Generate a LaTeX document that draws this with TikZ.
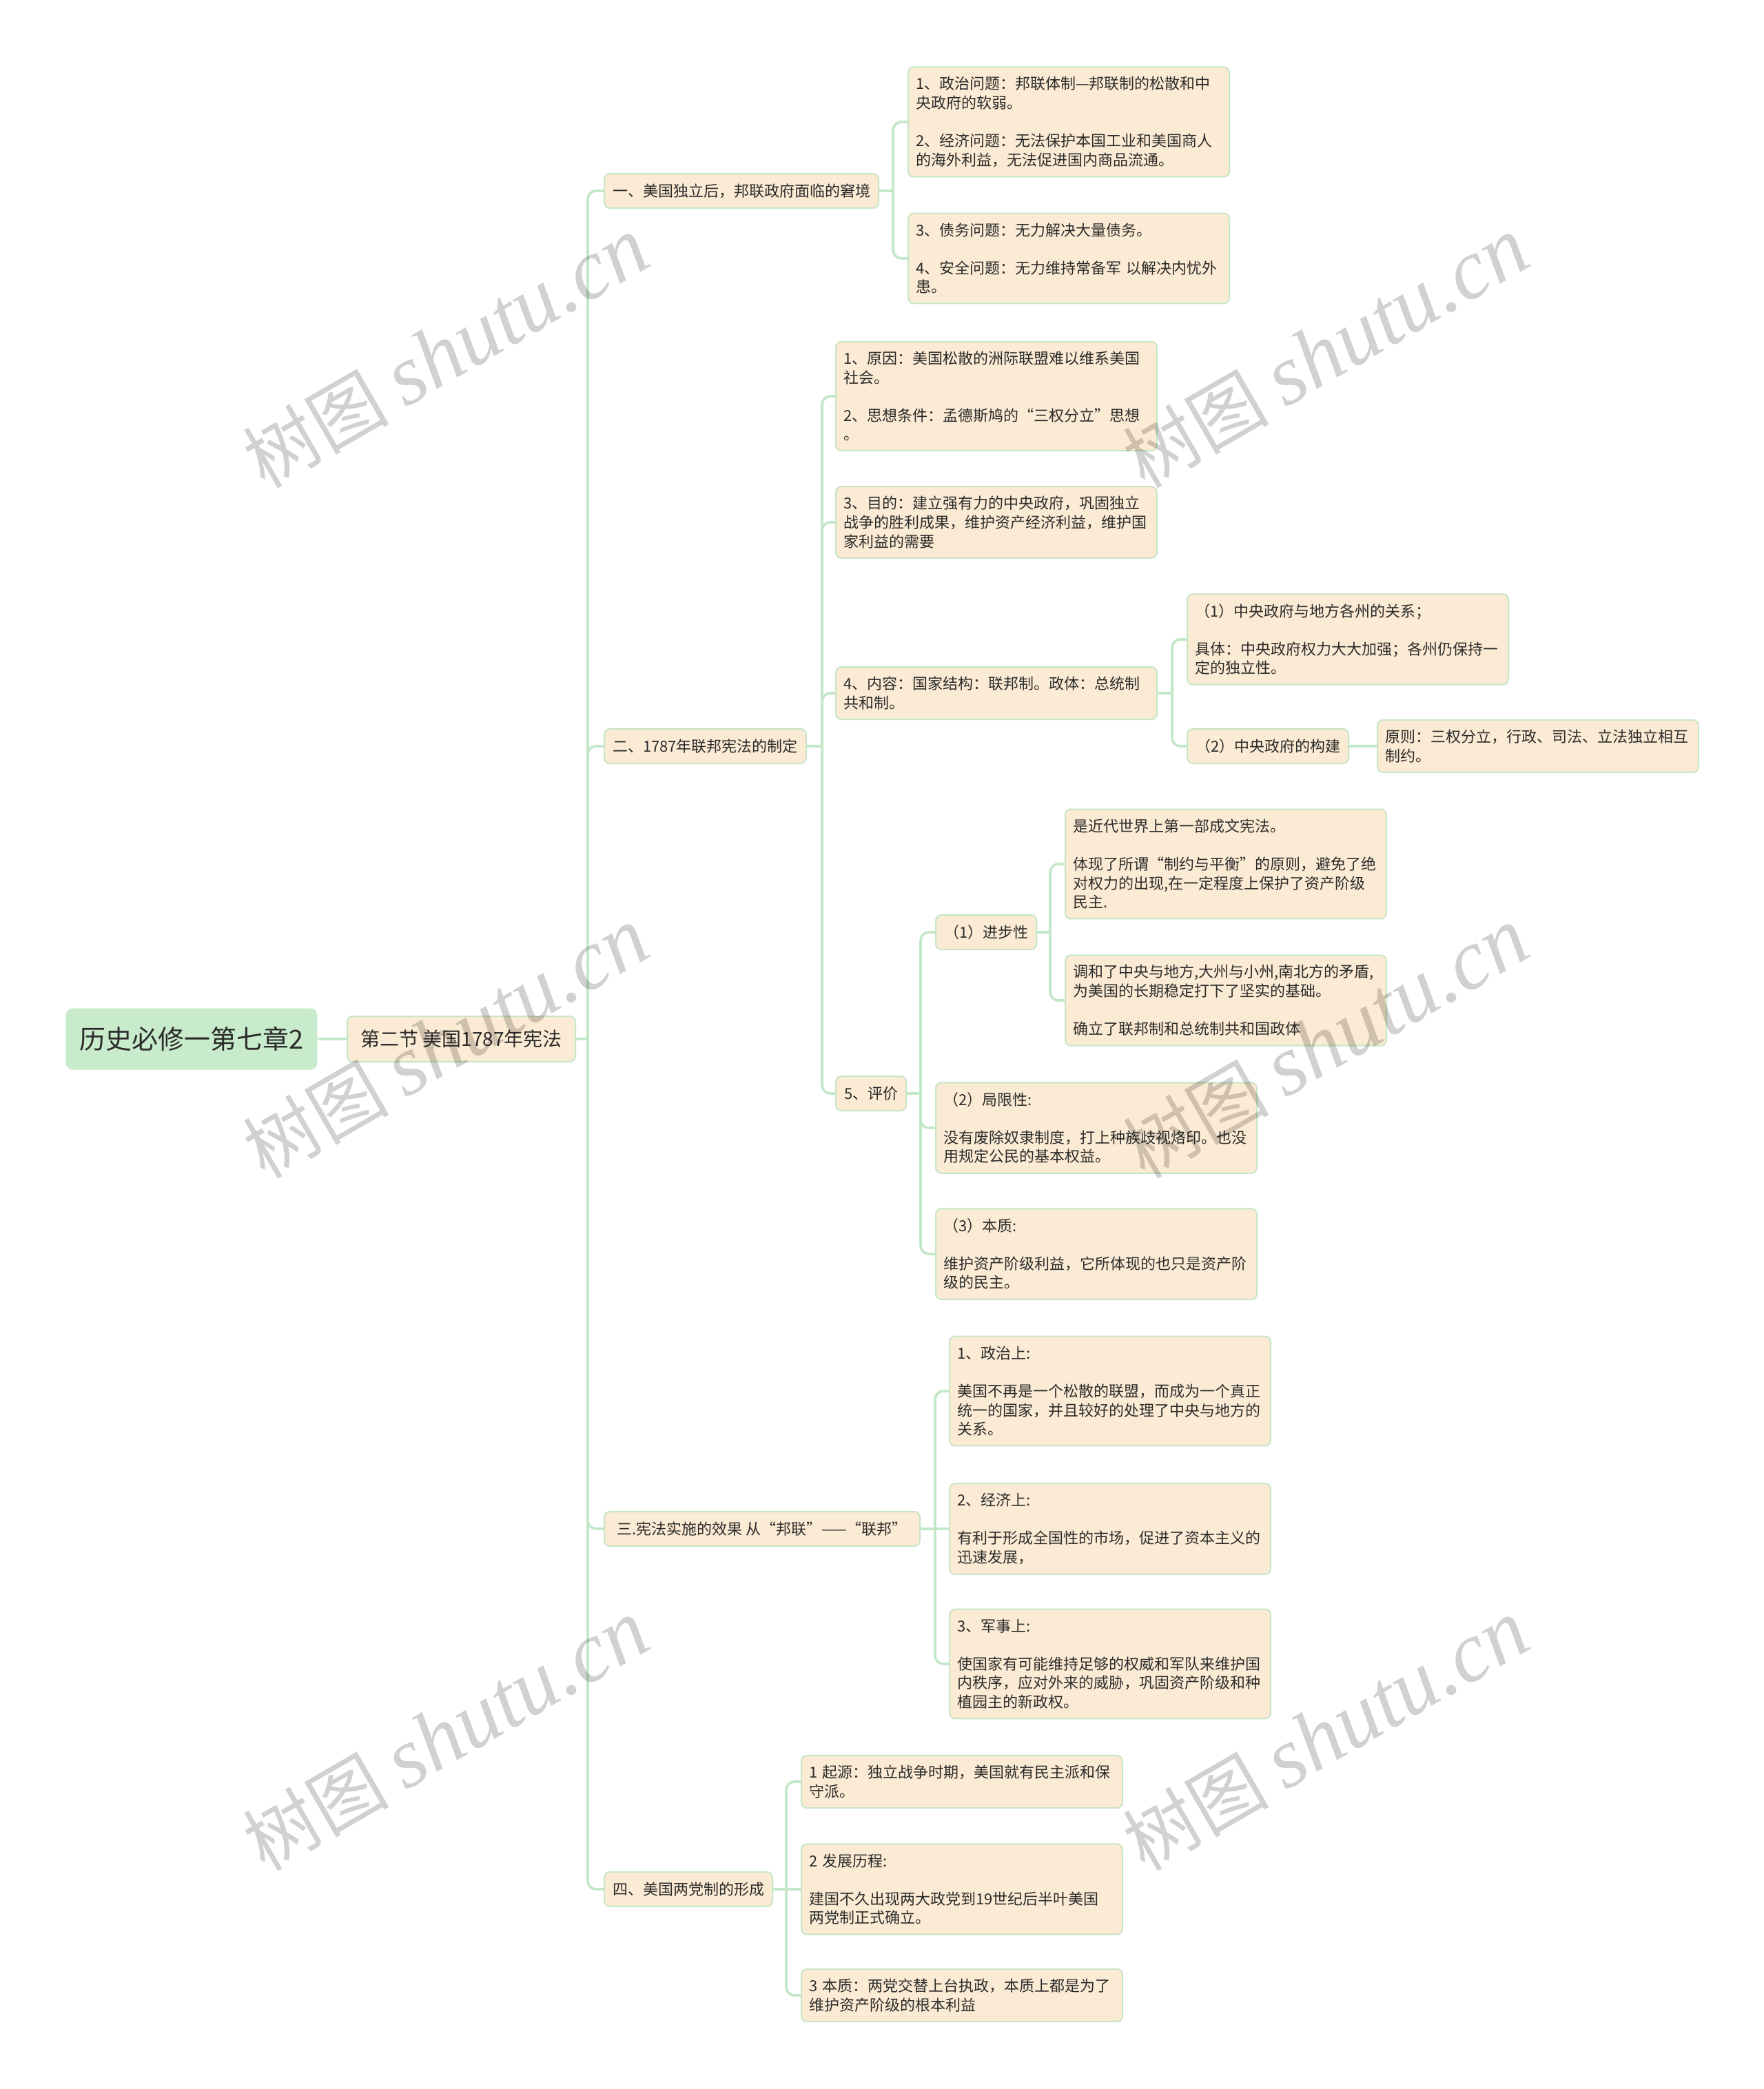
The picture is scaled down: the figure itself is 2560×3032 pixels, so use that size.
\documentclass[tikz,border=0pt]{standalone}
\usepackage{fontspec}
\newfontfamily\cjk{Noto Sans CJK SC}
\newfontfamily\wmlatin{Liberation Serif}
\definecolor{peach}{HTML}{FCEBD4}
\definecolor{bord}{HTML}{C6E6C6}
\definecolor{conn}{HTML}{C3E8C8}
\definecolor{rootg}{HTML}{C7EBCB}
\definecolor{txt}{HTML}{2B2B2B}
\tikzset{
  box/.style={draw=bord, line width=1pt, fill=peach, rounded corners=4pt, text=txt,
    anchor=west, inner xsep=6pt, inner ysep=7pt, font=\cjk\fontsize{11}{13.8}\selectfont},
  leaf/.style={box, inner xsep=5.5pt, text width=222pt, align=left},
  mid/.style={box, minimum height=25pt},
  rootbox/.style={fill=rootg, draw=none, rounded corners=5pt, text=txt, anchor=west,
    inner xsep=10pt, inner ysep=10pt, font=\cjk\fontsize{19}{23}\selectfont,
    minimum width=182.5pt, minimum height=44.5pt},
  secbox/.style={box, inner xsep=6.5pt, minimum height=33pt, minimum width=165.5pt,
    font=\cjk\fontsize{14}{17}\selectfont},
  link/.style={draw=conn, line width=1.8pt, rounded corners=6pt},
  wm/.style={text=black, text opacity=0.18, rotate=30, anchor=center, inner sep=0pt}
}
\begin{document}
\begin{tikzpicture}[x=0.5pt, y=-0.5pt]
\useasboundingbox[fill=white] (0,0) rectangle (2560,3032);

% root and section
\node[rootbox] (R) at (95,1508) {历史必修一第七章2};
\node[secbox] (S) at (503,1508) {第二节~美国1787年宪法};

% level 2
\node[mid] (A) at (876,277) {一、美国独立后，邦联政府面临的窘境};
\node[mid] (B) at (876,1083) {二、1787年联邦宪法的制定};
\node[mid, minimum width=229pt] (C) at (876,2219) {三.宪法实施的效果~从“邦联”——“联邦”};
\node[mid] (D) at (876,2742) {四、美国两党制的形成};

% A children
\node[leaf] (A1) at (1317,177) {1、政治问题：邦联体制—邦联制的松散和中\\央政府的软弱。\\[13.8pt]2、经济问题：无法保护本国工业和美国商人\\的海外利益，无法促进国内商品流通。};
\node[leaf] (A2) at (1317,375) {3、债务问题：无力解决大量债务。\\[13.8pt]4、安全问题：无力维持常备军~以解决内忧外\\患。};

% B children
\node[leaf] (B1) at (1212,575) {1、原因：美国松散的洲际联盟难以维系美国\\社会。\\[13.8pt]2、思想条件：孟德斯鸠的“三权分立”思想\\。};
\node[leaf] (B2) at (1212,758) {3、目的：建立强有力的中央政府，巩固独立\\战争的胜利成果，维护资产经济利益，维护国\\家利益的需要};
\node[leaf] (B3) at (1212,1006) {4、内容：国家结构：联邦制。政体：总统制\\共和制。};
\node[mid] (B4) at (1212,1587) {5、评价};

\node[leaf] (B31) at (1722,928) {（1）中央政府与地方各州的关系；\\[13.8pt]具体：中央政府权力大大加强；各州仍保持一\\定的独立性。};
\node[mid] (B32) at (1722,1083) {（2）中央政府的构建};
\node[leaf] (B321) at (1998,1083) {原则：三权分立，行政、司法、立法独立相互\\制约。};

\node[mid] (B41) at (1357,1353) {（1）进步性};
\node[leaf] (B411) at (1545,1254) {是近代世界上第一部成文宪法。\\[13.8pt]体现了所谓“制约与平衡”的原则，避免了绝\\对权力的出现,在一定程度上保护了资产阶级\\民主.};
\node[leaf] (B412) at (1545,1452) {调和了中央与地方,大州与小州,南北方的矛盾,\\为美国的长期稳定打下了坚实的基础。\\[13.8pt]确立了联邦制和总统制共和国政体};
\node[leaf] (B42) at (1357,1637) {（2）局限性:\\[13.8pt]没有废除奴隶制度，打上种族歧视烙印。也没\\用规定公民的基本权益。};
\node[leaf] (B43) at (1357,1820) {（3）本质:\\[13.8pt]维护资产阶级利益，它所体现的也只是资产阶\\级的民主。};

% C children
\node[leaf] (C1) at (1377,2019) {1、政治上:\\[13.8pt]美国不再是一个松散的联盟，而成为一个真正\\统一的国家，并且较好的处理了中央与地方的\\关系。};
\node[leaf] (C2) at (1377,2219) {2、经济上:\\[13.8pt]有利于形成全国性的市场，促进了资本主义的\\迅速发展，};
\node[leaf] (C3) at (1377,2415) {3、军事上:\\[13.8pt]使国家有可能维持足够的权威和军队来维护国\\内秩序，应对外来的威胁，巩固资产阶级和种\\植园主的新政权。};

% D children
\node[leaf] (D1) at (1162,2586) {1~起源：独立战争时期，美国就有民主派和保\\守派。};
\node[leaf] (D2) at (1162,2742) {2~发展历程:\\[13.8pt]建国不久出现两大政党到19世纪后半叶美国\\两党制正式确立。};
\node[leaf] (D3) at (1162,2896) {3~本质：两党交替上台执政，本质上都是为了\\维护资产阶级的根本利益};

% junctions
\coordinate (jT) at (853,1508);
\coordinate (jA) at (1296,277);
\coordinate (jB) at (1193,1083);
\coordinate (jB3) at (1701,1006);
\coordinate (jB4) at (1336,1587);
\coordinate (jB41) at (1524,1353);
\coordinate (jC) at (1357,2219);
\coordinate (jD) at (1141,2742);

% connectors
\draw[link] (R.east) -- (S.west);
\draw[link] (S.east) -- (jT);
\draw[link] (jT) |- (A.west);
\draw[link] (jT) |- (B.west);
\draw[link] (jT) |- (C.west);
\draw[link] (jT) |- (D.west);

\draw[link] (A.east) -- (jA);
\draw[link] (jA) |- (A1.west);
\draw[link] (jA) |- (A2.west);

\draw[link] (B.east) -- (jB);
\draw[link] (jB) |- (B1.west);
\draw[link] (jB) |- (B2.west);
\draw[link] (jB) |- (B3.west);
\draw[link] (jB) |- (B4.west);

\draw[link] (B3.east) -- (jB3);
\draw[link] (jB3) |- (B31.west);
\draw[link] (jB3) |- (B32.west);
\draw[link] (B32.east) -- (B321.west);

\draw[link] (B4.east) -- (jB4);
\draw[link] (jB4) |- (B41.west);
\draw[link] (jB4) |- (B42.west);
\draw[link] (jB4) |- (B43.west);

\draw[link] (B41.east) -- (jB41);
\draw[link] (jB41) |- (B411.west);
\draw[link] (jB41) |- (B412.west);

\draw[link] (C.east) -- (jC);
\draw[link] (jC) |- (C1.west);
\draw[link] (jC) -- (C2.west);
\draw[link] (jC) |- (C3.west);

\draw[link] (D.east) -- (jD);
\draw[link] (jD) |- (D1.west);
\draw[link] (jD) -- (D2.west);
\draw[link] (jD) |- (D3.west);

% watermarks
\foreach \n/\wx/\wy in {w1/647/512, w2/1924/512, w3/647/1514, w4/1924/1514, w5/647/2519, w6/1924/2519}{
  \node[wm] (\n) at (\wx,\wy) {{\cjk\fontsize{53}{60}\selectfont 树图}\hspace{12pt}{\wmlatin\itshape\fontsize{62}{66}\selectfont shutu.cn}};
}
\end{tikzpicture}
\end{document}
